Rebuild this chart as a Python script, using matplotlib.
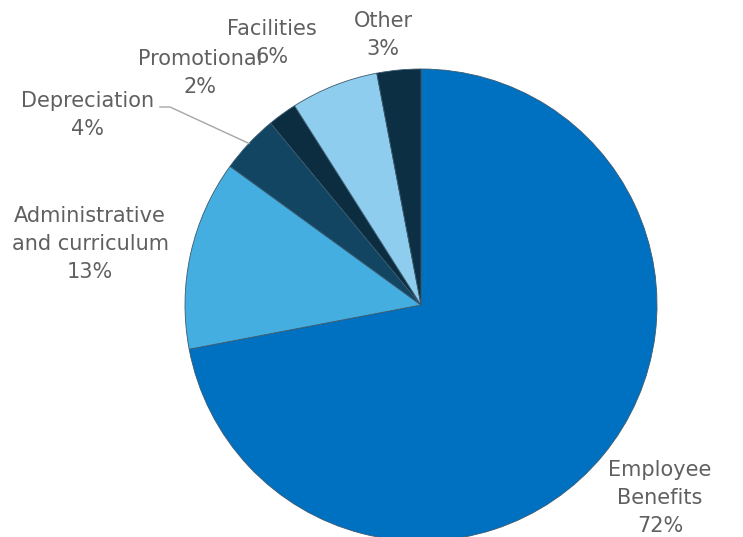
import matplotlib
matplotlib.use("Agg")
import matplotlib.pyplot as plt
import numpy as np

categories = ["Employee\nBenefits", "Administrative\nand curriculum", "Depreciation",
              "Promotional", "Facilities", "Other"]
values = [72, 13, 4, 2, 6, 3]
colors = ["#0070C0", "#45AEE0", "#124562", "#0C2C40", "#8FCDEE", "#0C2F43"]

# label anchor positions in pixels (center of text block)
label_px = [(660, 498), (90, 244), (88, 115), (200, 73), (272, 43), (383, 35)]

W, H = 743, 537
cx, cy, R = 421, 305, 236

fig = plt.figure(figsize=(W / 100, H / 100), dpi=100)
ax = fig.add_axes([0, 0, 1, 1])

wedges, _ = ax.pie(values, colors=colors, startangle=90, counterclock=False,
                   radius=1, center=(0, 0), frame=True,
                   wedgeprops=dict(linewidth=0.6, edgecolor="#3a5a70"))
ax.set_xlim(-cx / R, (W - cx) / R)
ax.set_ylim(-(H - cy) / R, cy / R)
ax.set_aspect("equal")
ax.axis("off")

def px2d(px, py):
    return (px - cx) / R, (cy - py) / R

total = sum(values)
for i, (cat, v) in enumerate(zip(categories, values)):
    x, y = px2d(*label_px[i])
    txt = f"{cat}\n{round(100 * v / total)}%"
    ax.text(x, y, txt, ha="center", va="center", fontsize=15, color="#606060",
            family="DejaVu Sans", linespacing=1.5)

# leader line for Depreciation
cum = np.cumsum([0] + values)
i = 2
mid = 90 - (cum[i] + values[i] / 2) / total * 360
ex, ey = np.cos(np.radians(mid)), np.sin(np.radians(mid))
sx, sy = px2d(160, 107)
kx, ky = px2d(170, 107)
ax.plot([sx, kx, ex], [sy, ky, ey], color="#a6a6a6", lw=1)

fig.savefig("out.png", dpi=100)
